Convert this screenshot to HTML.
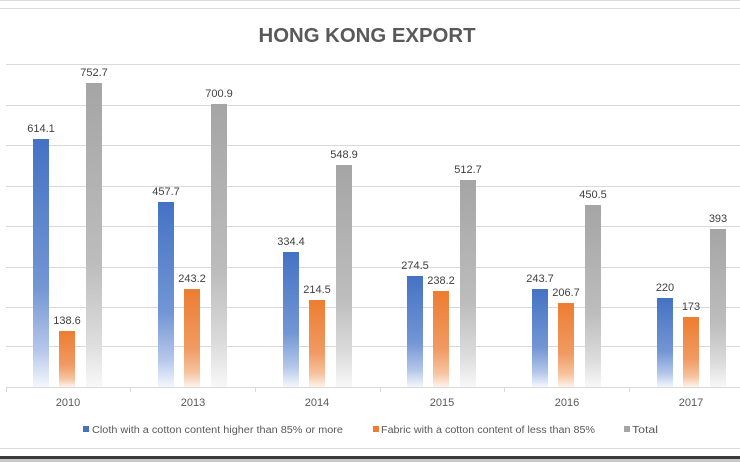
<!DOCTYPE html>
<html><head><meta charset="utf-8"><style>
html,body{margin:0;padding:0;background:#fff;}
svg{display:block;font-family:"Liberation Sans",sans-serif;}
</style></head><body>
<svg width="740" height="462" viewBox="0 0 740 462" xmlns="http://www.w3.org/2000/svg">
<defs>
<linearGradient id="gb" x1="0" y1="0" x2="0" y2="1"><stop offset="0" stop-color="#4472C4"/><stop offset="0.6" stop-color="#7396D4"/><stop offset="0.85" stop-color="#b4c7ea"/><stop offset="1" stop-color="#f4f7fc"/></linearGradient>
<linearGradient id="go" x1="0" y1="0" x2="0" y2="1"><stop offset="0" stop-color="#ED7D31"/><stop offset="0.6" stop-color="#F09A62"/><stop offset="0.85" stop-color="#f6c39f"/><stop offset="1" stop-color="#fdf3ec"/></linearGradient>
<linearGradient id="gg" x1="0" y1="0" x2="0" y2="1"><stop offset="0" stop-color="#A5A5A5"/><stop offset="0.6" stop-color="#BDBDBD"/><stop offset="0.85" stop-color="#dcdcdc"/><stop offset="1" stop-color="#f8f8f8"/></linearGradient>
</defs>
<rect width="740" height="462" fill="#fff"/>
<line x1="0" y1="0.5" x2="740" y2="0.5" stroke="#d9d9d9"/>
<line x1="0" y1="8.5" x2="740" y2="8.5" stroke="#d9d9d9"/>
<text x="367" y="42" text-anchor="middle" font-size="20" font-weight="bold" fill="#595959" textLength="217" lengthAdjust="spacingAndGlyphs">HONG KONG EXPORT</text>
<g stroke="#d9d9d9" stroke-width="1">
<line x1="6" y1="64.5" x2="740" y2="64.5"/>
<line x1="6" y1="105.5" x2="740" y2="105.5"/>
<line x1="6" y1="145.5" x2="740" y2="145.5"/>
<line x1="6" y1="186.5" x2="740" y2="186.5"/>
<line x1="6" y1="226.5" x2="740" y2="226.5"/>
<line x1="6" y1="267.5" x2="740" y2="267.5"/>
<line x1="6" y1="307.5" x2="740" y2="307.5"/>
<line x1="6" y1="346.5" x2="740" y2="346.5"/>
<line x1="6" y1="387.5" x2="740" y2="387.5"/>
<line x1="6.5" y1="387" x2="6.5" y2="392"/>
<line x1="130.5" y1="387" x2="130.5" y2="392"/>
<line x1="255.5" y1="387" x2="255.5" y2="392"/>
<line x1="380.5" y1="387" x2="380.5" y2="392"/>
<line x1="504.5" y1="387" x2="504.5" y2="392"/>
<line x1="629.5" y1="387" x2="629.5" y2="392"/>
</g>
<g id="bars"></g>
<g font-size="11" fill="#404040" text-anchor="middle">
<!-- 2010 -->
<rect x="33" y="139" width="16" height="248" fill="url(#gb)"/><text x="41" y="132">614.1</text>
<rect x="59" y="331" width="16" height="56" fill="url(#go)"/><text x="67" y="324">138.6</text>
<rect x="86" y="83" width="16" height="304" fill="url(#gg)"/><text x="94" y="76">752.7</text>
<!-- 2013 -->
<rect x="158" y="202" width="16" height="185" fill="url(#gb)"/><text x="166" y="195">457.7</text>
<rect x="184" y="289" width="16" height="98" fill="url(#go)"/><text x="192" y="282">243.2</text>
<rect x="211" y="104" width="16" height="283" fill="url(#gg)"/><text x="219" y="97">700.9</text>
<!-- 2014 -->
<rect x="283" y="252" width="16" height="135" fill="url(#gb)"/><text x="291" y="245">334.4</text>
<rect x="309" y="300" width="16" height="87" fill="url(#go)"/><text x="317" y="293">214.5</text>
<rect x="336" y="165" width="16" height="222" fill="url(#gg)"/><text x="344" y="158">548.9</text>
<!-- 2015 -->
<rect x="407" y="276" width="16" height="111" fill="url(#gb)"/><text x="415" y="269">274.5</text>
<rect x="433" y="291" width="16" height="96" fill="url(#go)"/><text x="441" y="284">238.2</text>
<rect x="460" y="180" width="16" height="207" fill="url(#gg)"/><text x="468" y="173">512.7</text>
<!-- 2016 -->
<rect x="532" y="289" width="16" height="98" fill="url(#gb)"/><text x="540" y="282">243.7</text>
<rect x="558" y="303" width="16" height="84" fill="url(#go)"/><text x="566" y="296">206.7</text>
<rect x="585" y="205" width="16" height="182" fill="url(#gg)"/><text x="593" y="198">450.5</text>
<!-- 2017 -->
<rect x="657" y="298" width="16" height="89" fill="url(#gb)"/><text x="665" y="291">220</text>
<rect x="683" y="317" width="16" height="70" fill="url(#go)"/><text x="691" y="310">173</text>
<rect x="710" y="229" width="16" height="158" fill="url(#gg)"/><text x="718" y="222">393</text>
</g>
<g font-size="11" fill="#595959" text-anchor="middle">
<text x="68" y="406">2010</text>
<text x="193" y="406">2013</text>
<text x="317" y="406">2014</text>
<text x="442" y="406">2015</text>
<text x="567" y="406">2016</text>
<text x="691" y="406">2017</text>
</g>
<g font-size="10" fill="#595959">
<rect x="83" y="426" width="6" height="6" fill="#4472C4"/>
<text x="92" y="433" textLength="251" lengthAdjust="spacingAndGlyphs">Cloth with a cotton content higher than 85% or more</text>
<rect x="373" y="426" width="6" height="6" fill="#ED7D31"/>
<text x="381" y="433" textLength="214" lengthAdjust="spacingAndGlyphs">Fabric with a cotton content of less than 85%</text>
<rect x="624" y="426" width="6" height="6" fill="#A5A5A5"/>
<text x="632" y="433" textLength="26" lengthAdjust="spacingAndGlyphs">Total</text>
</g>
<line x1="0" y1="448.5" x2="740" y2="448.5" stroke="#d9d9d9"/>
<rect x="0" y="456" width="740" height="3" fill="#3a3a3a"/>
<rect x="0" y="459" width="740" height="3" fill="#c8c8c8"/>
</svg>
</body></html>
